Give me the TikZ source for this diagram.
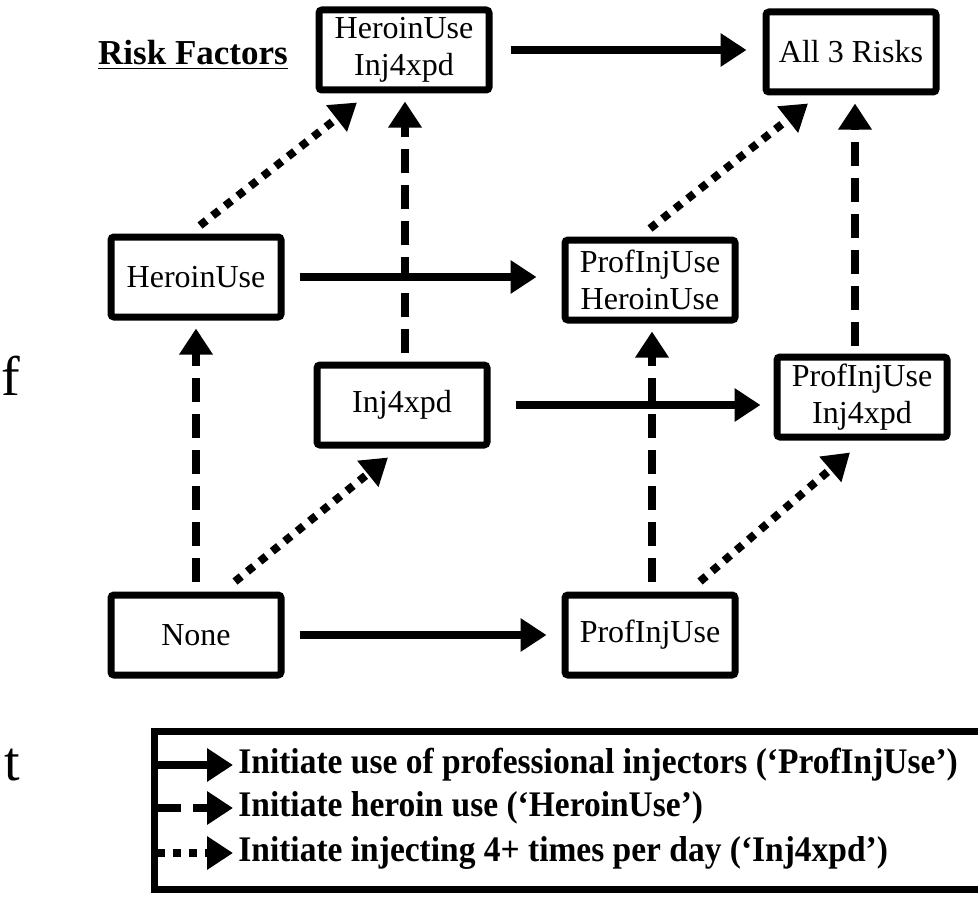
\documentclass[tikz,border=0pt]{standalone}
\usepackage{fontspec}
\setmainfont{Liberation Serif}
\newfontfamily\legendfont{Liberation Serif}[FakeStretch=0.93]
\usetikzlibrary{arrows.meta}

\tikzset{
  factor/.style={draw, line width=3.5pt, rounded corners=1.5pt, minimum width=85pt,
    minimum height=40pt, align=center, inner sep=2pt,
    font=\fontsize{16}{18.5}\selectfont},
  solidarrow/.style={line width=4pt, -{Triangle[length=13pt,width=16pt]}},
  dasharrow/.style={solidarrow, dash pattern=on 12pt off 6pt},
  dotarrow/.style={solidarrow, dash pattern=on 4pt off 4pt},
  legendtext/.style={anchor=west, inner sep=0pt, font=\legendfont\bfseries\fontsize{18}{20}\selectfont},
  edgeletter/.style={anchor=base east, inner sep=0pt, font=\fontsize{28}{30}\selectfont}
}

\begin{document}
\begin{tikzpicture}[x=0.5pt, y=-0.5pt]
    \useasboundingbox (0,0) rectangle (978,899);

    % Letters at the left edge
    \node[edgeletter] (cutf) at (21,395) {f};
    \node[edgeletter] (cutt) at (20,780) {t};

    % Title
    \node[inner sep=0pt, font=\bfseries\fontsize{17.5}{19}\selectfont] (title) at (193,55) {\underline{Risk Factors}};

    % Risk factor states
    \node[factor] (HI) at (404,50) {HeroinUse\\Inj4xpd};
    \node[factor] (All) at (851,52) {All 3 Risks};
    \node[factor] (H) at (196,277) {HeroinUse};
    \node[factor] (PH) at (650,280) {ProfInjUse\\HeroinUse};
    \node[factor] (I) at (402,405) {Inj4xpd};
    \node[factor] (PI) at (862,397) {ProfInjUse\\Inj4xpd};
    \node[factor] (N) at (196,635) {None};
    \node[factor] (P) at (650,635) {ProfInjUse};

    % ProfInjUse transitions
    \draw[solidarrow, shorten <=9pt, shorten >=8pt] (HI) -- (HI -| All.west);
    \draw[solidarrow, shorten <=7.5pt, shorten >=12.5pt] (H) -- (H -| PH.west);
    \draw[solidarrow, shorten <=12.5pt, shorten >=6.5pt] (I) -- (I -| PI.west);
    \draw[solidarrow, shorten <=7.5pt, shorten >=7.5pt] (N) -- (P);

    % HeroinUse transitions
    \draw[dasharrow, shorten <=5pt, shorten >=4pt] (N.north) -- (H.south);
    \draw[dasharrow, shorten <=4.5pt, shorten >=4pt] ([xshift=1.5pt]I.north) -- ([xshift=1.5pt]I.north |- HI.south);
    \draw[dasharrow, shorten <=5pt, shorten >=4pt] ([xshift=1pt]P.north) -- ([xshift=1pt]P.north |- PH.south);
    \draw[dasharrow, shorten <=4pt, shorten >=4pt] ([xshift=-3.5pt]PI.north) -- ([xshift=-3.5pt]PI.north |- All.south);

    % Inj4xpd transitions
    \draw[dotarrow] ([xshift=19.5pt,yshift=5pt]N.north) -- ([xshift=-7pt,yshift=-4.5pt]I.south);
    \draw[dotarrow] ([xshift=2pt,yshift=4pt]H.north) -- ([xshift=-23.5pt,yshift=-4.5pt]HI.south);
    \draw[dotarrow] ([xshift=25pt,yshift=5pt]P.north) -- ([xshift=-6pt,yshift=-6pt]PI.south);
    \draw[dotarrow] ([yshift=4pt]PH.north) -- ([xshift=-21.5pt,yshift=-4pt]All.south);

    % Legend
    \node[draw, line width=3.5pt, minimum width=423pt, minimum height=79pt, inner sep=0pt] (legend) at (577,810.5) {};
    \foreach \row/\y/\kind/\txt in {1/765/solidarrow/Initiate use of professional injectors (‘ProfInjUse’),
                                    2/808/dasharrow/Initiate heroin use (‘HeroinUse’),
                                    3/853/dotarrow/Initiate injecting 4+ times per day (‘Inj4xpd’)} {
        \coordinate (ls\row) at (157,\y);
        \coordinate (le\row) at (233,\y);
        \draw[\kind] (ls\row) -- (le\row);
        \node[legendtext] (lt\row) at (238,\y) {\txt};
    }
\end{tikzpicture}
\end{document}
